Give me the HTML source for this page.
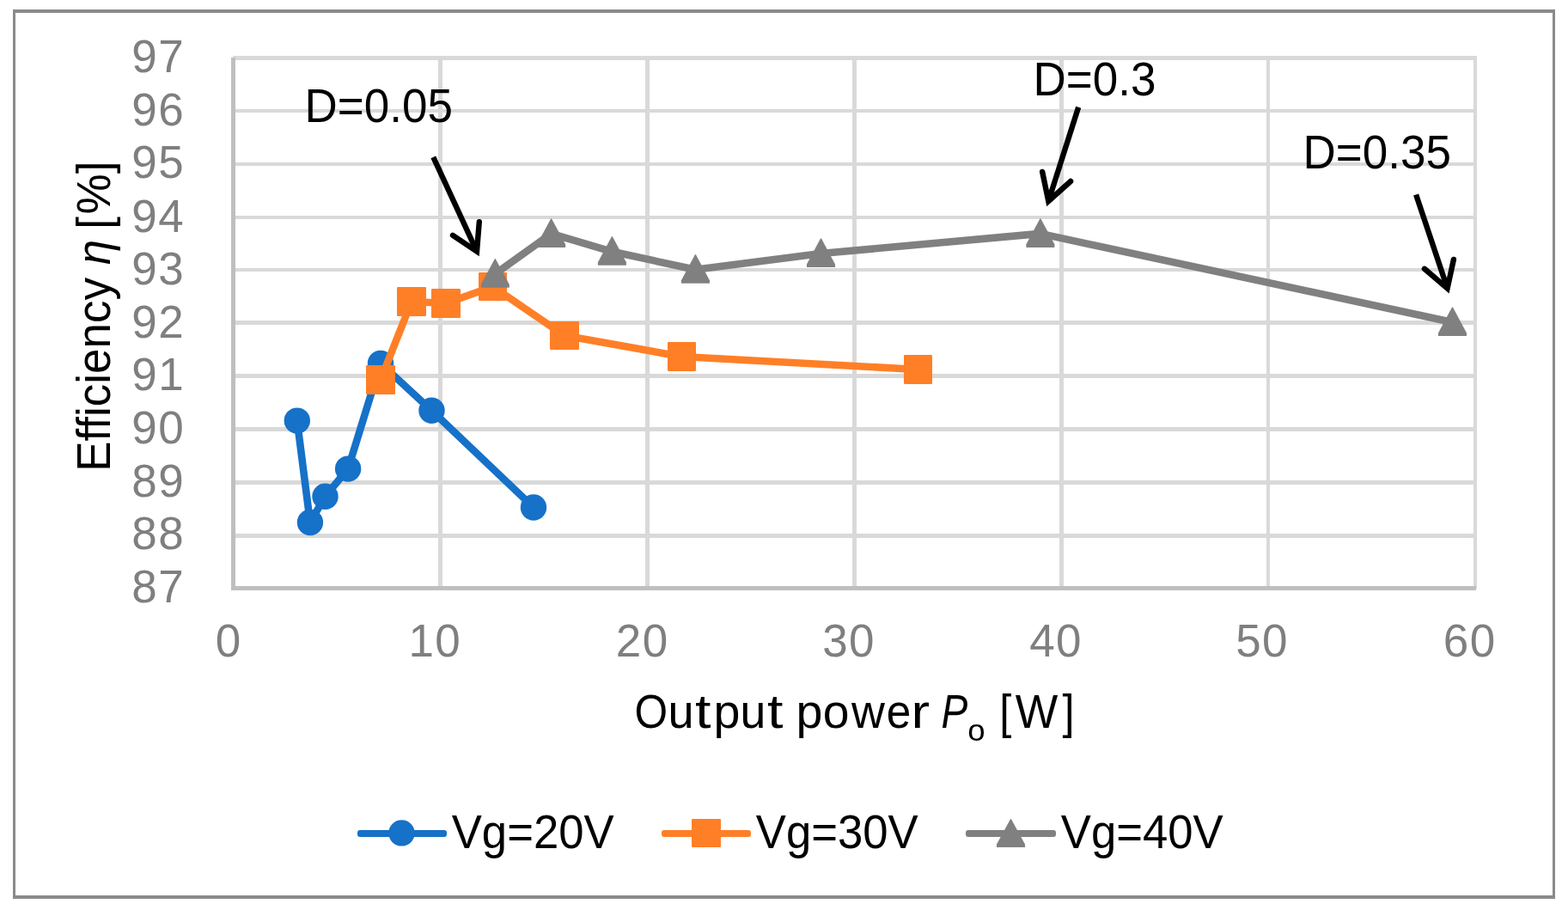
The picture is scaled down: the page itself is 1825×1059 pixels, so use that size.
<!DOCTYPE html>
<html lang="en"><head><meta charset="utf-8"><title>Efficiency vs output power</title>
<style>
html,body{margin:0;padding:0;background:#fff;}
body{width:1825px;height:1059px;overflow:hidden;}
svg{display:block;}
text{font-family:"Liberation Sans",Arial,sans-serif;}
</style></head><body>
<svg width="1825" height="1059" viewBox="0 0 1825 1059">
<rect x="0" y="0" width="1825" height="1059" fill="#ffffff"/>
<g fill="#8a8a8a" shape-rendering="crispEdges">
<rect x="15" y="11" width="1795" height="4"/>
<rect x="15" y="1042" width="1795" height="4"/>
<rect x="15" y="11" width="3" height="1035"/>
<rect x="1807" y="11" width="3" height="1035"/>
</g>
<g fill="#d9d9d9" shape-rendering="crispEdges">
<rect x="271" y="65" width="1448" height="5"/>
<rect x="271" y="127" width="1448" height="4"/>
<rect x="271" y="189" width="1448" height="4"/>
<rect x="271" y="251" width="1448" height="4"/>
<rect x="271" y="312" width="1448" height="4"/>
<rect x="271" y="373" width="1448" height="5"/>
<rect x="271" y="435" width="1448" height="5"/>
<rect x="271" y="497" width="1448" height="5"/>
<rect x="271" y="559" width="1448" height="5"/>
<rect x="271" y="621" width="1448" height="5"/>
<rect x="510" y="65" width="5" height="620"/>
<rect x="751" y="65" width="5" height="620"/>
<rect x="992" y="65" width="5" height="620"/>
<rect x="1233" y="65" width="5" height="620"/>
<rect x="1474" y="65" width="4" height="620"/>
<rect x="1715" y="65" width="4" height="620"/>
</g>
<g fill="#bfbfbf" shape-rendering="crispEdges">
<rect x="269" y="67" width="5" height="620"/>
<rect x="269" y="682" width="1449" height="5"/>
</g>
<text transform="translate(184.2,83.8) scale(1,1.02)" font-size="53" fill="#7f7f7f" text-anchor="middle" letter-spacing="1.4">97</text>
<text transform="translate(184.2,145.6) scale(1,1.02)" font-size="53" fill="#7f7f7f" text-anchor="middle" letter-spacing="1.4">96</text>
<text transform="translate(184.2,206.8) scale(1,1.02)" font-size="53" fill="#7f7f7f" text-anchor="middle" letter-spacing="1.4">95</text>
<text transform="translate(184.2,269.7) scale(1,1.02)" font-size="53" fill="#7f7f7f" text-anchor="middle" letter-spacing="1.4">94</text>
<text transform="translate(184.2,330.8) scale(1,1.02)" font-size="53" fill="#7f7f7f" text-anchor="middle" letter-spacing="1.4">93</text>
<text transform="translate(184.2,392.8) scale(1,1.02)" font-size="53" fill="#7f7f7f" text-anchor="middle" letter-spacing="1.4">92</text>
<text transform="translate(184.2,454.1) scale(1,1.02)" font-size="53" fill="#7f7f7f" text-anchor="middle" letter-spacing="1.4">91</text>
<text transform="translate(184.2,515.8) scale(1,1.02)" font-size="53" fill="#7f7f7f" text-anchor="middle" letter-spacing="1.4">90</text>
<text transform="translate(184.2,577.6) scale(1,1.02)" font-size="53" fill="#7f7f7f" text-anchor="middle" letter-spacing="1.4">89</text>
<text transform="translate(184.2,639.2) scale(1,1.02)" font-size="53" fill="#7f7f7f" text-anchor="middle" letter-spacing="1.4">88</text>
<text transform="translate(184.2,700.8) scale(1,1.02)" font-size="53" fill="#7f7f7f" text-anchor="middle" letter-spacing="1.4">87</text>
<text transform="translate(265.5,763.7) scale(1,1.02)" font-size="53" fill="#7f7f7f" text-anchor="middle">0</text>
<text transform="translate(506.3,763.7) scale(1,1.02)" font-size="53" fill="#7f7f7f" text-anchor="middle" letter-spacing="1.4">10</text>
<text transform="translate(747.7,763.7) scale(1,1.02)" font-size="53" fill="#7f7f7f" text-anchor="middle" letter-spacing="1.4">20</text>
<text transform="translate(988,763.7) scale(1,1.02)" font-size="53" fill="#7f7f7f" text-anchor="middle" letter-spacing="1.4">30</text>
<text transform="translate(1229,763.7) scale(1,1.02)" font-size="53" fill="#7f7f7f" text-anchor="middle" letter-spacing="1.4">40</text>
<text transform="translate(1469,763.7) scale(1,1.02)" font-size="53" fill="#7f7f7f" text-anchor="middle" letter-spacing="1.4">50</text>
<text transform="translate(1710.7,763.7) scale(1,1.02)" font-size="53" fill="#7f7f7f" text-anchor="middle" letter-spacing="1.4">60</text>
<text transform="translate(128.3,548.8) rotate(-90) scale(1,1.035)" font-size="53" fill="#000">Efficiency <tspan font-style="italic">η</tspan> <tspan dx="-2.7">[</tspan><tspan dx="2.7">%]</tspan></text>
<text transform="translate(0,846.8) scale(1,1.017)" font-size="54" fill="#000"><tspan x="738.61" y="0" textLength="38.67" lengthAdjust="spacingAndGlyphs">O</tspan><tspan x="777.44" y="0" textLength="30.16" lengthAdjust="spacingAndGlyphs">u</tspan><tspan x="808.99" y="0" textLength="18.5" lengthAdjust="spacingAndGlyphs">t</tspan><tspan x="830.52" y="0" textLength="30.92" lengthAdjust="spacingAndGlyphs">p</tspan><tspan x="861.51" y="0" textLength="29.85" lengthAdjust="spacingAndGlyphs">u</tspan><tspan x="892.99" y="0" textLength="18.5" lengthAdjust="spacingAndGlyphs">t</tspan> <tspan x="926.52" y="0" textLength="30.92" lengthAdjust="spacingAndGlyphs">p</tspan><tspan x="957.68" y="0" textLength="30.74" lengthAdjust="spacingAndGlyphs">o</tspan><tspan x="991.08" y="0" textLength="38.89" lengthAdjust="spacingAndGlyphs">w</tspan><tspan x="1031.82" y="0" textLength="28.56" lengthAdjust="spacingAndGlyphs">e</tspan><tspan x="1060.6" y="0" textLength="21.58" lengthAdjust="spacingAndGlyphs">r</tspan> <tspan x="1095.58" y="0" textLength="30.71" lengthAdjust="spacingAndGlyphs" font-style="italic">P</tspan><tspan x="1126.36" y="14.45" textLength="20.38" lengthAdjust="spacingAndGlyphs" font-size="34.3">o</tspan> <tspan x="1163.28" y="0" textLength="14.12" lengthAdjust="spacingAndGlyphs">[</tspan><tspan x="1181.67" y="0" textLength="49.51" lengthAdjust="spacingAndGlyphs">W</tspan><tspan x="1236.6" y="0" textLength="14.12" lengthAdjust="spacingAndGlyphs">]</tspan></text>
<polyline points="345.8,489.6 360.95,607.95 378.5,577.8 405.1,545.6 443,422.85 502.5,477.8 621,590.5" fill="none" stroke="#1671c8" stroke-width="8.6" stroke-linejoin="round" stroke-linecap="round"/>
<g fill="#1671c8"><circle cx="345.8" cy="489.6" r="15.2"/><circle cx="360.95" cy="607.95" r="15.2"/><circle cx="378.5" cy="577.8" r="15.2"/><circle cx="405.1" cy="545.6" r="15.2"/><circle cx="443" cy="422.85" r="15.2"/><circle cx="502.5" cy="477.8" r="15.2"/><circle cx="621" cy="590.5" r="15.2"/></g>
<polyline points="443,442 479,351 519,353 573.5,333.5 657,390.5 793.5,415 1068.5,430" fill="none" stroke="#ff7f27" stroke-width="8.6" stroke-linejoin="round" stroke-linecap="round"/>
<g fill="#ff7f27"><rect x="426" y="425" width="34" height="34" rx="1.3"/><rect x="462" y="334" width="34" height="34" rx="1.3"/><rect x="502" y="336" width="34" height="34" rx="1.3"/><rect x="557" y="317" width="33" height="33" rx="1.3"/><rect x="640" y="374" width="34" height="33" rx="1.3"/><rect x="777" y="398" width="33" height="34" rx="1.3"/><rect x="1052" y="413" width="33" height="34" rx="1.3"/></g>
<polyline points="576.3,318.7 641.6,271.9 712.4,292.8 809.45,313.8 955.5,295 1210.9,271.9 1690.5,375" fill="none" stroke="#808080" stroke-width="8.6" stroke-linejoin="round" stroke-linecap="round"/>
<g fill="#808080"><polygon points="575.7,301.5 576.3,300.9 576.9,301.5 592.8,331.1 592.8,334.7 559.8,334.7 559.8,331.1"/><polygon points="641,254.7 641.6,254.1 642.2,254.7 658.1,284.3 658.1,287.9 625.1,287.9 625.1,284.3"/><polygon points="711.8,275.6 712.4,275 713,275.6 728.9,305.2 728.9,308.8 695.9,308.8 695.9,305.2"/><polygon points="808.85,296.6 809.45,296 810.05,296.6 825.95,326.2 825.95,329.8 792.95,329.8 792.95,326.2"/><polygon points="954.9,277.8 955.5,277.2 956.1,277.8 972,307.4 972,311 939,311 939,307.4"/><polygon points="1210.3,254.7 1210.9,254.1 1211.5,254.7 1227.4,284.3 1227.4,287.9 1194.4,287.9 1194.4,284.3"/><polygon points="1689.9,357.8 1690.5,357.2 1691.1,357.8 1707,387.4 1707,391 1674,391 1674,387.4"/></g>
<text transform="translate(354.55,141.7) scale(1,1.034)" font-size="53" fill="#000">D=0.05</text>
<text transform="translate(1202.5,110.6) scale(1,1.034)" font-size="53" fill="#000">D=0.3</text>
<text transform="translate(1516.6,196) scale(1,1.034)" font-size="53" fill="#000">D=0.35</text>
<g fill="none" stroke="#000" stroke-width="6.4">
<path d="M504.3,182.8 L555,292.6" stroke-linecap="butt"/>
<path d="M527,273.9 L555,292.6 L557.8,258.1" stroke-linecap="round" stroke-linejoin="miter"/>
<path d="M1255.2,124.7 L1220.3,234.1" stroke-linecap="butt"/>
<path d="M1213.2,200 L1220.3,234.1 L1246.1,211" stroke-linecap="round" stroke-linejoin="miter"/>
<path d="M1648.1,226.4 L1684.6,335.6" stroke-linecap="butt"/>
<path d="M1657.9,312.8 L1684.6,335.6 L1691.9,302" stroke-linecap="round" stroke-linejoin="miter"/>
</g>
<rect x="416" y="966" width="104" height="8" rx="3" fill="#1671c8"/>
<g fill="#1671c8"><circle cx="467.5" cy="969.4" r="15.2"/></g>
<text transform="translate(525.7,986.8) scale(1,1.043)" font-size="52.7" fill="#000">Vg=20V</text>
<rect x="770" y="966" width="104" height="8" rx="3" fill="#ff7f27"/>
<g fill="#ff7f27"><rect x="805" y="953" width="34" height="33" rx="1.3"/></g>
<text transform="translate(879.8,986.8) scale(1,1.043)" font-size="52.7" fill="#000">Vg=30V</text>
<rect x="1124" y="966" width="105" height="8" rx="3" fill="#808080"/>
<g fill="#808080"><polygon points="1175.9,953.4 1176.5,952.8 1177.1,953.4 1193,982.4 1193,986 1160,986 1160,982.4"/></g>
<text transform="translate(1234.8,986.8) scale(1,1.043)" font-size="52.7" fill="#000">Vg=40V</text>
</svg>
</body></html>
